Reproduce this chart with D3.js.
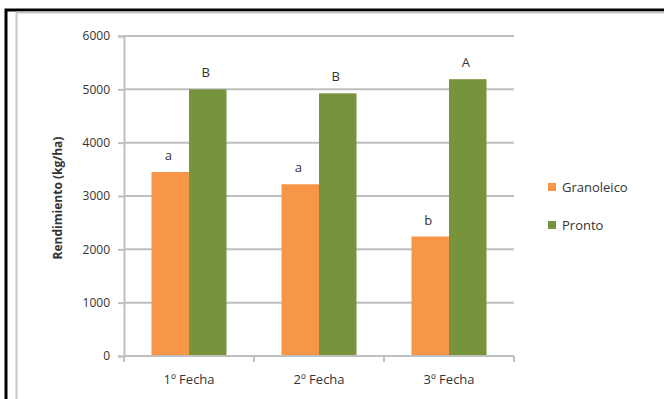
<!DOCTYPE html>
<html>
<head>
<meta charset="utf-8">
<script src="https://cdn.jsdelivr.net/npm/d3@7"></script>
<style>
  html, body { margin: 0; padding: 0; background: #fff; }
  svg { display: block; }
  text { font-family: "Open Sans", "Liberation Sans", sans-serif; fill: #333; }
</style>
</head>
<body>
<svg id="chart" width="664" height="399"></svg>
<script>
// Rendimiento por fecha de siembra y variedad
const categories = ["1º Fecha", "2º Fecha", "3º Fecha"];
const seriesNames = ["Granoleico", "Pronto"];
const granoleico = [3450, 3220, 2240];
const pronto = [5000, 4925, 5190];
const granoleicoLetters = ["a", "a", "b"];
const prontoLetters = ["B", "B", "A"];
const yTicks = [0, 1000, 2000, 3000, 4000, 5000, 6000];
const colors = ["#F79646", "#77933C"];

const svg = d3.select("#chart");

// outer frame
svg.append("path").attr("d", "M6,399 V10 H664").attr("fill", "none")
  .attr("stroke", "#000").attr("stroke-width", 3);
svg.append("path").attr("d", "M16.5,399 V12.5 H664").attr("fill", "none")
  .attr("stroke", "#c8c8c8").attr("stroke-width", 2);

const margin = { left: 124, right: 514, top: 36, bottom: 356 };

const x0 = d3.scaleBand().domain(categories).range([margin.left, margin.right])
  .paddingInner(0).paddingOuter(0);
const groupW = 75;
const x1 = d3.scaleBand().domain(seriesNames).range([0, groupW]);
const y = d3.scaleLinear().domain([0, 6000]).range([margin.bottom, margin.top]);

// gridlines
svg.append("g").selectAll("line").data(yTicks.filter(d => d > 0)).join("line")
  .attr("x1", margin.left).attr("x2", margin.right)
  .attr("y1", d => y(d)).attr("y2", d => y(d))
  .attr("stroke", "#bfbfbf").attr("stroke-width", 2);

// y axis
const yAxis = svg.append("g").attr("transform", `translate(${margin.left},0)`)
  .call(d3.axisLeft(y).tickValues(yTicks).tickSize(6).tickPadding(8).tickFormat(d3.format("d")));
yAxis.select(".domain").attr("stroke", "#bfbfbf").attr("stroke-width", 2);
yAxis.selectAll(".tick line").attr("stroke", "#bfbfbf").attr("stroke-width", 2);
yAxis.selectAll(".tick text").style("font-size", "12px").attr("fill", "#333");

// bars
const data = categories.map((c, i) => ({
  cat: c,
  vals: [
    { s: seriesNames[0], v: granoleico[i], l: granoleicoLetters[i], c: colors[0] },
    { s: seriesNames[1], v: pronto[i], l: prontoLetters[i], c: colors[1] }
  ]
}));

const groups = svg.append("g").selectAll("g").data(data).join("g")
  .attr("transform", d => `translate(${x0(d.cat) + (x0.bandwidth() - groupW) / 2},0)`);

groups.selectAll("rect").data(d => d.vals).join("rect")
  .attr("x", d => x1(d.s)).attr("width", x1.bandwidth())
  .attr("y", d => y(d.v)).attr("height", d => y(0) - y(d.v))
  .attr("fill", d => d.c);

groups.selectAll("text.lbl").data(d => d.vals).join("text")
  .attr("class", "lbl")
  .attr("x", d => x1(d.s) + x1.bandwidth() / 2 - 2)
  .attr("y", d => y(d.v) - 12)
  .attr("text-anchor", "middle")
  .style("font-size", "13px")
  .text(d => d.l);

// x axis
const xAxis = svg.append("g").attr("transform", `translate(0,${margin.bottom})`)
  .call(d3.axisBottom(x0).tickSize(0).tickPadding(19));
xAxis.select(".domain").attr("stroke", "#bfbfbf").attr("stroke-width", 2)
  .attr("d", `M${margin.left},0H${margin.right}`);
xAxis.selectAll(".tick text").style("font-size", "13px").attr("fill", "#333");
svg.append("g").selectAll("line")
  .data(categories.map(c => x0(c)).concat([margin.right]))
  .join("line")
  .attr("x1", d => d).attr("x2", d => d)
  .attr("y1", margin.bottom).attr("y2", margin.bottom + 6)
  .attr("stroke", "#bfbfbf").attr("stroke-width", 2);

// y axis title
svg.append("text")
  .attr("transform", `translate(62,${(margin.top + margin.bottom) / 2 + 2}) rotate(-90)`)
  .attr("text-anchor", "middle")
  .style("font-size", "12px").style("font-weight", "bold")
  .text("Rendimiento (kg/ha)");

// legend
const legend = svg.append("g").selectAll("g").data(seriesNames).join("g")
  .attr("transform", (d, i) => `translate(548,${187 + i * 38})`);
legend.append("rect").attr("x", 0).attr("y", -4).attr("width", 8).attr("height", 8)
  .attr("fill", (d, i) => colors[i]);
legend.append("text").attr("x", 14).attr("y", 0).attr("dy", "0.35em")
  .style("font-size", "13px").text(d => d);
</script>
</body>
</html>
